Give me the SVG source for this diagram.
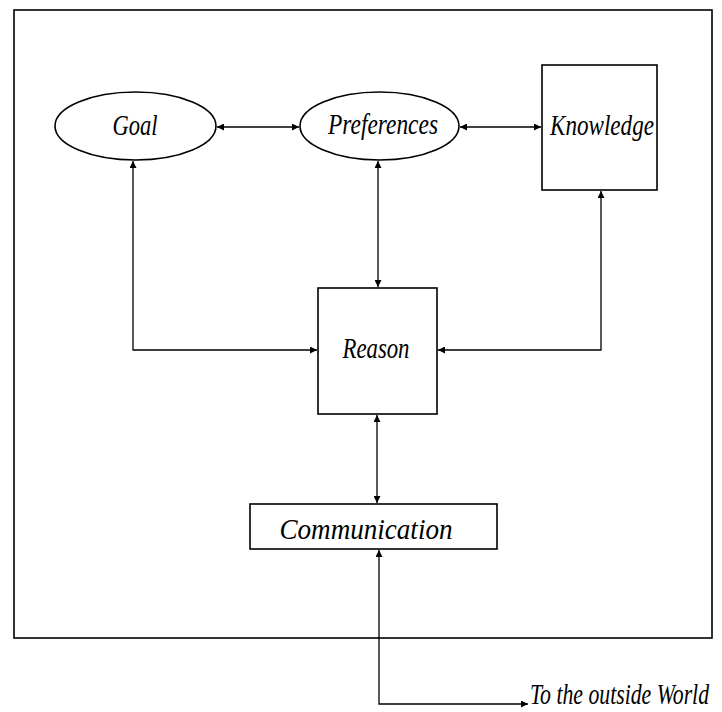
<svg xmlns="http://www.w3.org/2000/svg" width="722" height="712" viewBox="0 0 722 712">
  <style>
    .shape { fill: #fff; stroke: #000; stroke-width: 1.6; }
    .frame { fill: none; stroke: #000; stroke-width: 1.6; }
    .label { font-family: "Liberation Serif", "Times New Roman", serif; font-style: italic; font-size: 29px; fill: #000; }
    .link { fill: none; stroke: #000; stroke-width: 1.3; }
  </style>
  <defs>
    <marker id="head" viewBox="0 0 10 10" refX="10" refY="5" markerWidth="8" markerHeight="7" markerUnits="userSpaceOnUse" orient="auto-start-reverse">
      <path d="M0,0 L10,5 L0,10 z" fill="#000"/>
    </marker>
  </defs>
  <rect width="722" height="712" fill="#fff"/>

  <!-- agent boundary -->
  <rect class="frame" x="14" y="10" width="698" height="628"/>

  <g id="connectors">
    <line class="link" x1="217" y1="127" x2="299" y2="127" marker-start="url(#head)" marker-end="url(#head)"/>
    <line class="link" x1="460" y1="127" x2="541" y2="127" marker-start="url(#head)" marker-end="url(#head)"/>
    <line class="link" x1="378" y1="161" x2="378" y2="287" marker-start="url(#head)" marker-end="url(#head)"/>
    <polyline class="link" points="133,161 133,350 317,350" marker-start="url(#head)" marker-end="url(#head)"/>
    <polyline class="link" points="601,191 601,350 438,350" marker-start="url(#head)" marker-end="url(#head)"/>
    <line class="link" x1="377" y1="415" x2="377" y2="503" marker-start="url(#head)" marker-end="url(#head)"/>
    <polyline class="link" points="379,550 379,704 528,704" marker-start="url(#head)" marker-end="url(#head)"/>
  </g>

  <g id="goal">
    <ellipse class="shape" cx="135.5" cy="126" rx="80.5" ry="34"/>
    <text class="label" x="135" y="135" text-anchor="middle" textLength="45" lengthAdjust="spacingAndGlyphs">Goal</text>
  </g>
  <g id="preferences">
    <ellipse class="shape" cx="379.5" cy="126" rx="79.5" ry="34"/>
    <text class="label" x="383" y="134" text-anchor="middle" textLength="110" lengthAdjust="spacingAndGlyphs">Preferences</text>
  </g>
  <g id="knowledge">
    <rect class="shape" x="542" y="65" width="115" height="125"/>
    <text class="label" x="602" y="135" text-anchor="middle" textLength="104" lengthAdjust="spacingAndGlyphs">Knowledge</text>
  </g>
  <g id="reason">
    <rect class="shape" x="318" y="288" width="119" height="126"/>
    <text class="label" x="376" y="358" text-anchor="middle" textLength="67" lengthAdjust="spacingAndGlyphs">Reason</text>
  </g>
  <g id="communication">
    <rect class="shape" x="250" y="504" width="247" height="45"/>
    <text class="label" x="366" y="539" text-anchor="middle" textLength="173" lengthAdjust="spacingAndGlyphs">Communication</text>
  </g>
  <g id="outside">
    <text class="label" transform="translate(530,704) scale(0.75,1)" x="0" y="0">To the outside World</text>
  </g>
</svg>
